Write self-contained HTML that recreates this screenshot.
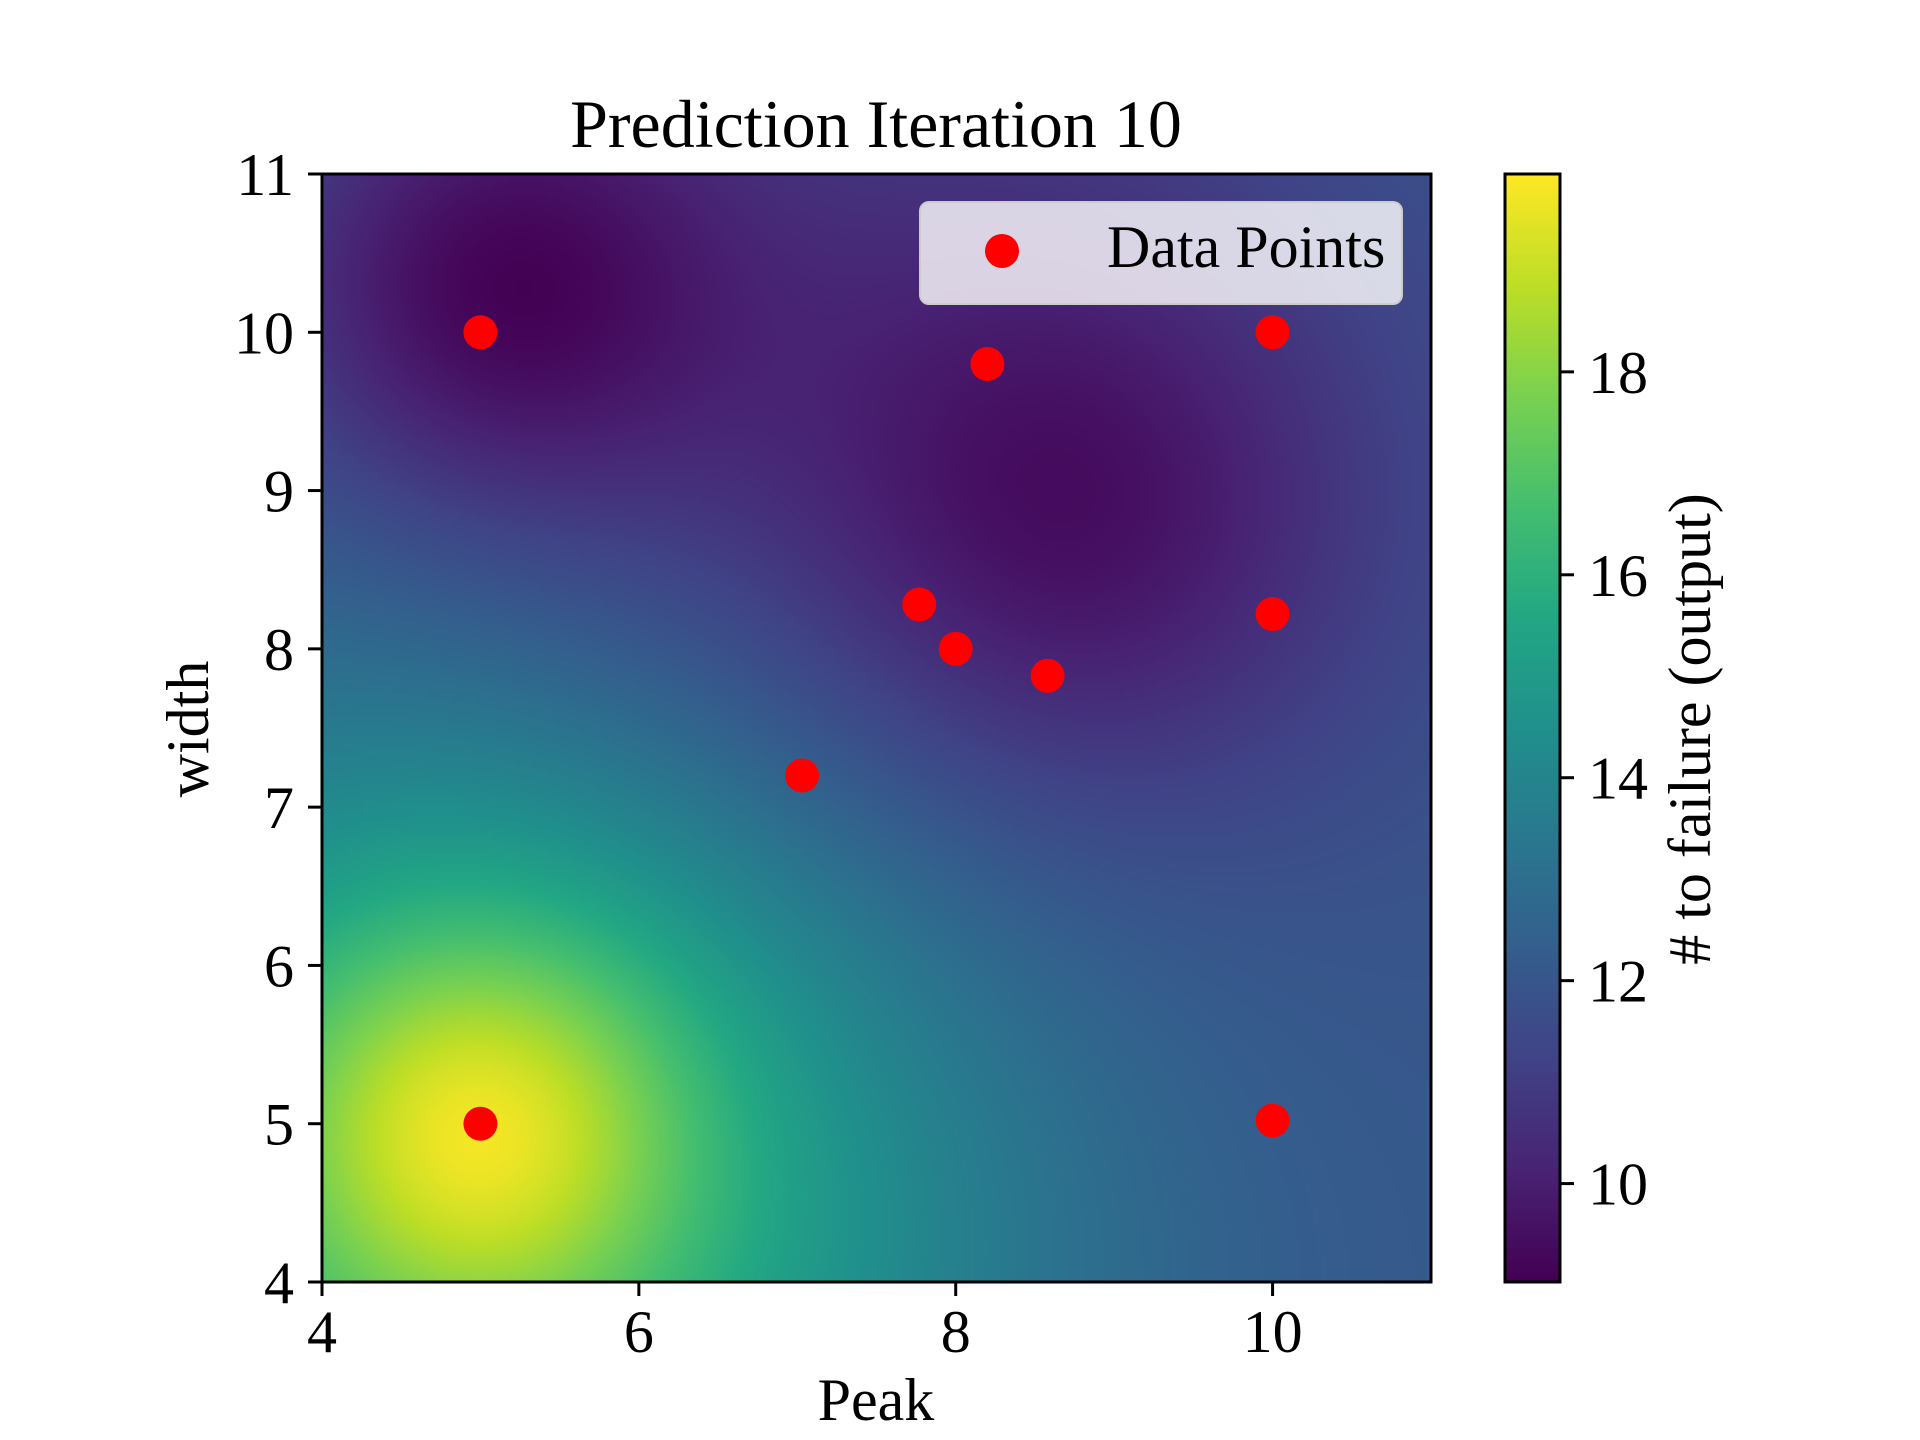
<!DOCTYPE html>
<html><head><meta charset="utf-8"><style>
html,body{margin:0;padding:0;background:#fff;}
#wrap{position:relative;width:1920px;height:1440px;overflow:hidden;font-family:"Liberation Serif",serif;}
canvas{position:absolute;}
svg{position:absolute;left:0;top:0;}
text{font-family:"Liberation Serif",serif;fill:#000;}
</style></head><body>
<div id="wrap">
<canvas id="heat" width="277" height="277" style="left:322px;top:174px;width:1109px;height:1108px;"></canvas>
<canvas id="cbar" width="1" height="256" style="left:1505px;top:174px;width:55px;height:1108px;"></canvas>
<svg id="svg" width="1920" height="1440"></svg>
</div>
<script>
// data points
const pointX = [5, 10, 8.2, 7.77, 8.0, 8.58, 10.0, 7.03, 5.0, 10.0];
const pointY = [10, 10, 9.8, 8.28, 8.0, 7.83, 8.22, 7.2, 5.0, 5.02];
// surface model: baseline + gaussian bumps
const baseValue = 12;
const bumpX = [5.0, 5.0, 5.1, 8.8, 7.4];
const bumpY = [5.0, 4.6, 10.25, 8.8, 9.3];
const bumpAmp = [3.5, 4.5, -2.3, -1.6, -1.5];
const bumpSigma = [0.9, 2.3, 1.0, 1.2, 2.3];
const xTicks = [4, 6, 8, 10];
const yTicks = [4, 5, 6, 7, 8, 9, 10, 11];
const cbTicks = [10, 12, 14, 16, 18];
const xDomain = [4, 11], yDomain = [4, 11], cDomain = [9.03, 19.95];

const L = 322, R = 1431, T = 174, B = 1282;
const sx = v => L + (v - xDomain[0]) / (xDomain[1] - xDomain[0]) * (R - L);
const sy = v => B - (v - yDomain[0]) / (yDomain[1] - yDomain[0]) * (B - T);
const cy = v => B - (v - cDomain[0]) / (cDomain[1] - cDomain[0]) * (B - T);

const vir = [[68,1,84],[72,35,116],[64,67,135],[52,94,141],[41,120,142],[32,144,140],[34,167,132],[68,190,112],[121,209,81],[189,222,38],[253,231,37]];
function cmap(t){t=Math.max(0,Math.min(1,t));const p=t*(vir.length-1);const i=Math.min(vir.length-2,Math.floor(p));const f=p-i;
 return vir[i].map((c,k)=>Math.round(c+(vir[i+1][k]-c)*f));}
function field(x,y){let v=baseValue;for(let i=0;i<bumpX.length;i++){const d2=(x-bumpX[i])**2+(y-bumpY[i])**2;v+=bumpAmp[i]*Math.exp(-d2/(2*bumpSigma[i]**2));}return v;}

const hc=document.getElementById('heat'),hx=hc.getContext('2d'),W=hc.width,H=hc.height;
const img=hx.createImageData(W,H);
for(let j=0;j<H;j++)for(let i=0;i<W;i++){
 const x=xDomain[0]+(i+0.5)/W*(xDomain[1]-xDomain[0]);const y=yDomain[1]-(j+0.5)/H*(yDomain[1]-yDomain[0]);
 const c=cmap((field(x,y)-cDomain[0])/(cDomain[1]-cDomain[0]));const o=(j*W+i)*4;
 img.data[o]=c[0];img.data[o+1]=c[1];img.data[o+2]=c[2];img.data[o+3]=255;}
hx.putImageData(img,0,0);
const cc=document.getElementById('cbar'),cx=cc.getContext('2d');
for(let j=0;j<256;j++){const c=cmap(1-j/255);cx.fillStyle=`rgb(${c})`;cx.fillRect(0,j,1,1);}

const svg=document.getElementById('svg');const NS='http://www.w3.org/2000/svg';
function mk(tag,attrs,txt){const e=document.createElementNS(NS,tag);for(const k in attrs)e.setAttribute(k,attrs[k]);if(txt!==undefined)e.textContent=txt;svg.appendChild(e);return e;}

pointX.forEach((px,i)=>{
 const e=mk('circle',{cx:sx(px),cy:sy(pointY[i]),r:17,fill:'#ff0000'});
 
 
});
let e;
e=mk('rect',{x:L,y:T,width:R-L,height:B-T,fill:'none',stroke:'#000','stroke-width':3});

e=mk('rect',{x:1505,y:T,width:55,height:B-T,fill:'none',stroke:'#000','stroke-width':3});


xTicks.forEach(v=>{
 e=mk('line',{x1:sx(v),x2:sx(v),y1:B,y2:B+14,stroke:'#000','stroke-width':3});
 
 e=mk('text',{x:sx(v),y:1352,'font-size':60,'text-anchor':'middle'},String(v));
 
});
yTicks.forEach(v=>{
 e=mk('line',{x1:L-14,x2:L,y1:sy(v),y2:sy(v),stroke:'#000','stroke-width':3});
 
 e=mk('text',{x:294,y:sy(v)+21,'font-size':60,'text-anchor':'end'},String(v));
 
});
cbTicks.forEach(v=>{
 e=mk('line',{x1:1560,x2:1574,y1:cy(v),y2:cy(v),stroke:'#000','stroke-width':3});
 
 e=mk('text',{x:1588,y:cy(v)+21,'font-size':60},String(v));
 
});
</script>
<script>
(function(){
const svg=document.getElementById('svg');const NS='http://www.w3.org/2000/svg';
function mk(tag,attrs,txt){const e=document.createElementNS(NS,tag);for(const k in attrs)e.setAttribute(k,attrs[k]);if(txt!==undefined)e.textContent=txt;svg.appendChild(e);return e;}
let e;
e=mk('text',{x:876,y:147,'font-size':68,'text-anchor':'middle'},'Prediction Iteration 10');

e=mk('text',{x:876,y:1420,'font-size':60,'text-anchor':'middle'},'Peak');

e=mk('text',{x:0,y:0,'font-size':60,'text-anchor':'middle',transform:'translate(208,729) rotate(-90)'},'width');

e=mk('text',{x:0,y:0,'font-size':60,'text-anchor':'middle',transform:'translate(1710,729) rotate(-90)'},'# to failure (output)');

e=mk('rect',{x:920,y:202,width:482,height:102,rx:9,fill:'rgba(255,255,255,0.8)',stroke:'#ccc','stroke-width':2});

e=mk('circle',{cx:1002,cy:251,r:17,fill:'#ff0000'});

e=mk('text',{x:1107,y:267,'font-size':60},'Data Points');

})();
</script>
</body></html>
